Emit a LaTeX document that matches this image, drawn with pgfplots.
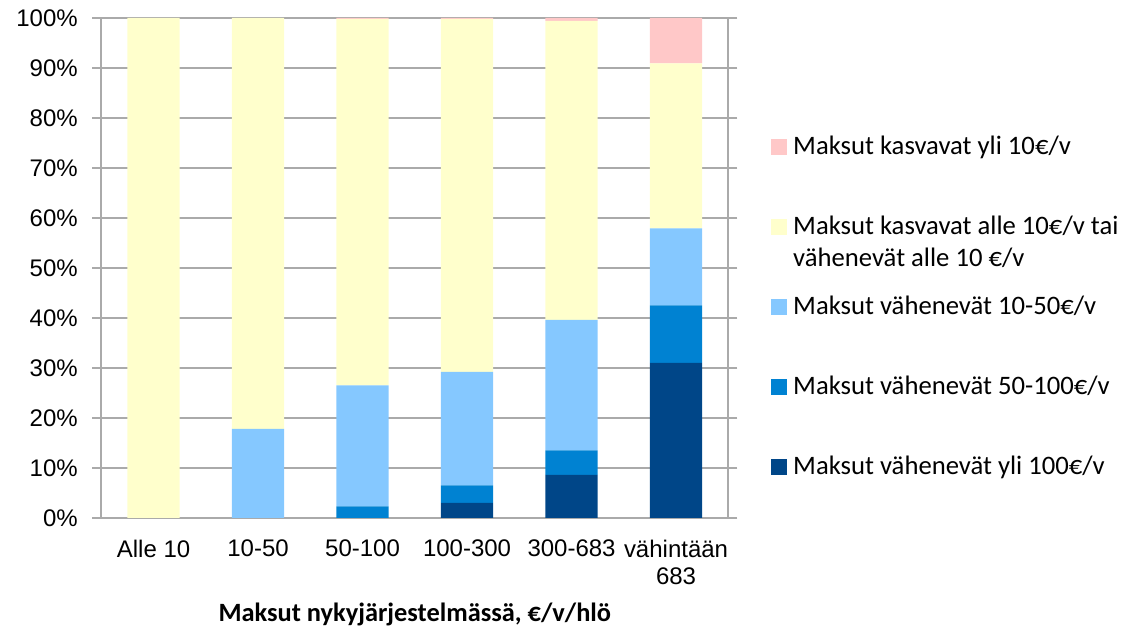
\documentclass[border=0pt]{standalone}
\usepackage{pgfplots}
\pgfplotsset{compat=1.18}
\usepackage{fontspec}
\setmainfont{Carlito}
\newfontfamily\arial{Liberation Sans}
\definecolor{cpink}{RGB}{255,200,200}
\definecolor{cyellow}{RGB}{255,255,204}
\definecolor{clight}{RGB}{133,200,255}
\definecolor{cmid}{RGB}{0,130,210}
\definecolor{cdark}{RGB}{0,70,136}
\definecolor{cgrid}{RGB}{170,170,170}
\begin{document}
\begin{tikzpicture}
\useasboundingbox (-76pt,-84pt) rectangle (772.3pt,388.5pt);
\begin{axis}[
  scale only axis,
  width=470.25pt, height=375pt,
  ybar stacked, bar width=0.5,
  xmin=-0.5, xmax=5.5, ymin=0, ymax=100,
  xtick={0,1,2,3,4,5},
  xticklabels={Alle 10,10-50,50-100,100-300,300-683,{vähintään\\683}},
  xtick style={draw=none},
  extra x ticks={-0.5,0.5,1.5,2.5,3.5,4.5,5.5},
  extra x tick labels={},
  extra x tick style={grid=none, tick style={draw=cgrid, line width=1.5pt}, major tick length=4pt, tick align=outside},
  ytick={0,10,...,100},
  yticklabel={\pgfmathprintnumber{\tick}\%},
  /pgf/number format/assume math mode=true,
  tick align=outside,
  major tick length=6.75pt,
  ytick style={draw=cgrid, line width=1.5pt},
  ymajorgrids,
  grid style={draw=cgrid, line width=1.5pt},
  axis line style={draw=cgrid, line width=1.5pt},
  yticklabel style={font=\arial\fontsize{18}{21}\selectfont, anchor=east, inner sep=0pt, xshift=-10.75pt},
  xticklabel style={font=\arial\fontsize{18}{20.6}\selectfont, align=center, anchor=north, inner sep=0pt, yshift=-9.5pt},
  xlabel={Maksut nykyjärjestelmässä, €/v/hlö},
  xlabel style={at={(axis description cs:0.5,0)}, anchor=base, yshift=-77.5pt, font=\bfseries\fontsize{19.8}{22}\selectfont},
  reverse legend,
  legend cell align=left,
  legend image code/.code={\fill[#1] (0pt,-4.75pt) rectangle (12pt,7.25pt);},
  legend style={at={(1,1)}, anchor=north west, xshift=32pt, yshift=-86pt,
    draw=none, fill=none, inner sep=0pt, row sep=36.5pt, column sep=4.5pt,
    nodes={inner sep=0pt, text height=16.5pt, text depth=7pt, font=\fontsize{20}{23.5}\selectfont}},
]
\addplot[fill=cdark, draw=none] coordinates {(0,0) (1,0) (2,0) (3,3.0) (4,8.6) (5,31.0)};
\addlegendentry{Maksut vähenevät yli 100€/v}
\addplot[fill=cmid, draw=none] coordinates {(0,0) (1,0) (2,2.3) (3,3.5) (4,4.9) (5,11.5)};
\addlegendentry{Maksut vähenevät 50-100€/v}
\addplot[fill=clight, draw=none] coordinates {(0,0) (1,17.8) (2,24.2) (3,22.7) (4,26.1) (5,15.4)};
\addlegendentry{Maksut vähenevät 10-50€/v}
\addplot[fill=cyellow, draw=none] coordinates {(0,100) (1,82.2) (2,73.3) (3,70.6) (4,59.8) (5,33.0)};
\addlegendentry{\begin{tabular}[t]{@{}l@{}}Maksut kasvavat alle 10€/v tai\\vähenevät alle 10 €/v\end{tabular}}
\addplot[fill=cpink, draw=none] coordinates {(0,0) (1,0) (2,0.2) (3,0.2) (4,0.6) (5,9.1)};
\addlegendentry{Maksut kasvavat yli 10€/v}
\end{axis}
\end{tikzpicture}
\end{document}
